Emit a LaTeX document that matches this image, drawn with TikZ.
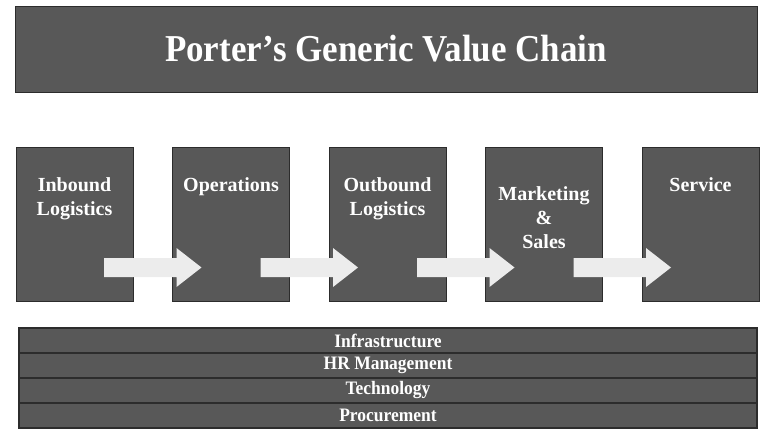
\documentclass[tikz,border=0pt]{standalone}
\usepackage{fontspec}
\setmainfont{Liberation Serif}
\newfontfamily\condfont[FakeStretch=0.92]{Liberation Serif}
\usetikzlibrary{positioning, calc}
\definecolor{panelgray}{RGB}{88,88,88}
\definecolor{edgegray}{RGB}{44,44,44}
\definecolor{arrowgray}{RGB}{236,236,236}

\begin{document}
\begin{tikzpicture}[x=1pt, y=-1pt,
    panel/.style={fill=panelgray, draw=edgegray, line width=1pt, inner sep=0pt, outer sep=0pt},
    activity/.style={panel, minimum width=117pt, minimum height=154pt},
    support/.style={panel, line width=1.4pt, minimum width=738pt, minimum height=25pt, text=white,
        font=\condfont\bfseries\fontsize{19}{21}\selectfont},
    boxtext/.style={text=white, align=center, inner sep=0pt,
        font=\bfseries\fontsize{20}{24}\selectfont},
    flow/.style={fill=arrowgray}]
    \useasboundingbox (0,0) rectangle (766,434);

    % Title bar
    \node[panel, minimum width=742pt, minimum height=86pt, text=white,
        font=\condfont\bfseries\fontsize{38}{40}\selectfont] (title) at (386,49)
        {Porter’s Generic Value Chain};

    % Primary activities
    \node[activity] (inbound) at (74.5,224) {};
    \node[activity, right=39.5pt of inbound] (operations) {};
    \node[activity, right=39.5pt of operations] (outbound) {};
    \node[activity, right=39.5pt of outbound] (marketing) {};
    \node[activity, right=39.5pt of marketing] (service) {};

    % Block arrows between the activities
    \foreach \a/\b in {inbound/operations, operations/outbound,
                       outbound/marketing, marketing/service}
        \fill[flow] ($(\a.south east)+(-29,-24)$) -- ($(\a.south east)+(-29,-43)$)
            -- ($(\b.south west)+(4,-43)$) -- ($(\b.south west)+(4,-53)$)
            -- ($(\b.south west)+(29,-33.5)$) -- ($(\b.south west)+(4,-14)$)
            -- ($(\b.south west)+(4,-24)$) -- cycle;

    % Activity labels
    \node[boxtext, below=30pt of inbound.north] (inbound-text) {Inbound\\Logistics};
    \node[boxtext, below=30pt of operations.north] (operations-text) {Operations};
    \node[boxtext, below=30pt of outbound.north] (outbound-text) {Outbound\\Logistics};
    \node[boxtext, below=39pt of marketing.north] (marketing-text) {Marketing\\\&\\Sales};
    \node[boxtext, below=30pt of service.north] (service-text) {Service};

    % Support activities
    \node[support] (infra) at (388,340.5) {Infrastructure};
    \node[support, below=0pt of infra] (hrm) {HR Management};
    \node[support, below=0pt of hrm] (tech) {Technology};
    \node[support, below=0pt of tech] (proc) {Procurement};
\end{tikzpicture}
\end{document}
